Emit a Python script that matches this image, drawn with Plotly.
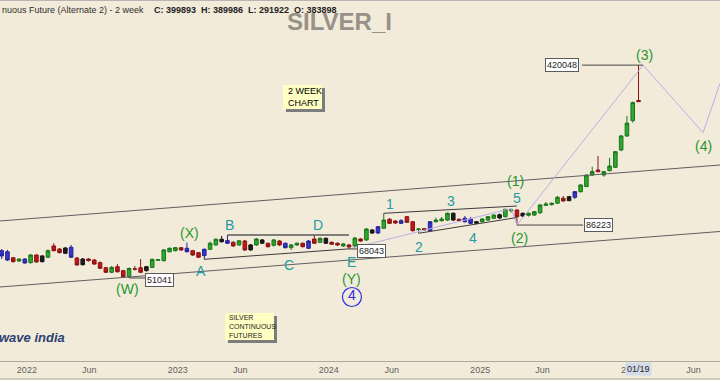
import math
import pandas as pd
import plotly.graph_objects as go

# ---------------- data (2-week candles, Silver continuous future) ----------------
dates = pd.date_range(end="2026-01-19", periods=111, freq="14D")

opens = [66900, 66200, 62400, 60400, 61600, 59400, 64100, 63500, 62700, 70100,
         68000, 65200, 69200, 62200, 61600, 61600, 61000, 59400, 56500, 54000,
         57100, 54900, 51800, 55900, 56500, 54900, 56700, 60800, 60600, 66200,
         66900, 68900, 68500, 66900, 65600, 63700, 67800, 70800, 73100, 73900,
         72700, 70800, 73600, 67400, 70800, 72000, 72000, 70600, 73600, 72000,
         68900, 70800, 72000, 68500, 75100, 72700, 75600, 72700, 72000, 70100,
         70800, 70100, 75100, 74400, 82100, 79700, 83500, 91300, 89700, 87700,
         93700, 89100, 82500, 83200, 81500, 89100, 90000, 90600, 96900, 91300,
         89100, 91500, 87700, 89100, 90600, 92200, 92500, 93700, 99400, 100100,
         94300, 95000, 95200, 97400, 104800, 105500, 107000, 112500, 109700, 113500,
         120000, 126300, 141500, 148700, 141500, 147700, 152700, 181300, 208300, 242500,
         296000]

highs = [68000, 67400, 62800, 61900, 62200, 64700, 64500, 64000, 67700, 72000,
         68700, 69400, 70800, 62800, 62200, 62200, 61600, 60100, 56900, 57500,
         58600, 55300, 56600, 57500, 61600, 57500, 61900, 61600, 68000, 69000,
         69400, 69400, 72400, 67400, 66000, 68400, 73300, 75500, 77400, 78100,
         73300, 74000, 74400, 71500, 75800, 75100, 72500, 75100, 74400, 72500,
         71500, 72500, 72500, 74400, 78100, 76200, 76200, 73300, 72500, 72200,
         71500, 76600, 75800, 83700, 82900, 85400, 96860, 92500, 90600, 91500,
         94300, 89700, 83300, 83700, 89700, 92900, 93400, 97600, 97600, 92000,
         94300, 93400, 89700, 92500, 94300, 96200, 96700, 101100, 101580, 100600,
         97600, 97600, 99100, 105700, 108300, 107800, 115000, 115000, 115000, 120800,
         128800, 142200, 153700, 170900, 147300, 167500, 179200, 210400, 254000, 292900,
         420048]

lows = [61600, 60400, 59500, 59800, 58900, 58900, 59400, 59500, 62200, 66400,
        65100, 64700, 62200, 57500, 57800, 60100, 58100, 55800, 53600, 53600,
        53900, 51400, 51041, 55000, 53600, 54400, 56400, 60400, 60100, 65700,
        66400, 66700, 65700, 63500, 62200, 61400, 67400, 70400, 72500, 71500,
        69400, 70100, 66700, 66700, 70100, 71500, 69000, 69700, 70100, 68400,
        67400, 70100, 69000, 68000, 71500, 72200, 71500, 70800, 70100, 69400,
        68043, 69400, 72900, 73600, 78900, 78900, 82900, 87100, 87100, 87100,
        88000, 80900, 79450, 81300, 80900, 88400, 89300, 89700, 89700, 89300,
        88400, 87100, 87100, 88400, 89700, 91500, 91500, 92900, 97600, 86223,
        93400, 93800, 94300, 96200, 104100, 104600, 106200, 108900, 109400, 111600,
        119000, 125500, 140100, 145100, 139200, 146500, 151700, 179200, 206300, 237700,
        291922]

closes = [63500, 61000, 60000, 61600, 59200, 64100, 59800, 60000, 66900, 66900,
          65600, 68700, 62700, 58100, 58200, 60600, 58600, 56200, 54000, 56700,
          54300, 51700, 56100, 55700, 54000, 57100, 61400, 61200, 67400, 68500,
          68900, 67400, 66200, 64100, 62700, 67800, 72000, 74900, 74900, 72000,
          70100, 73800, 67400, 70800, 75100, 74400, 69600, 74400, 70800, 68900,
          70800, 72000, 69600, 73600, 72000, 75600, 72000, 71300, 70800, 71500,
          69400, 75800, 73600, 82900, 79700, 84800, 90600, 87700, 88000, 90000,
          88600, 81500, 82900, 82100, 89100, 90600, 91500, 96900, 90600, 90000,
          92200, 87700, 89100, 91500, 93700, 95200, 95500, 100800, 100100, 93700,
          96900, 96900, 98400, 105200, 106200, 107000, 113500, 109400, 114200, 120000,
          128200, 141500, 146300, 146300, 146300, 154700, 178300, 208300, 236300, 289800,
          292500]

# bar colouring of the charting package: g=green, r=red, k=black, b=blue
candle_colors = list("bbrgbgrkgr" "rkbrkrrrrg" "rrgrrkgggg" "grbrrbggkb" "rgrkgkrgrb"
                     "ggrbrgkrrg" "rgrgkbgrrb" "rrgrbgggkr" "bbkgggkggr" "kggggggrkb"
                     "gggrggggggr")

x_ticks = ["2022-01-01", "2022-06-01", "2023-01-01", "2023-06-01", "2024-01-01",
           "2024-06-01", "2025-01-01", "2025-06-01", "2026-01-01", "2026-06-01"]
x_tick_text = ["2022", "Jun", "2023", "Jun", "2024", "Jun", "2025", "Jun", "2026", "Jun"]

# drawn trend lines (date, price)
channel_dates = ["2021-10-28", "2026-08-04"]
channel_upper = [89750, 156250]
channel_lower = [46690, 80890]
ace_dates = [dates[35], dates[60]]
ace_prices = [61420, 68100]
bd_dates = [dates[39], dates[60]]
bd_prices = [78200, 78200]
wedge_up_dates = [dates[66], dates[89]]
wedge_up_prices = [96860, 104120]
wedge_lo_dates = [dates[72], dates[89]]
wedge_lo_prices = [79450, 92900]
path_dates = [dates[60], dates[88], dates[89], "2026-01-30", "2026-06-24", "2026-08-04"]
path_prices = [68043, 101580, 86223, 420048, 215130, 350850]

# price boxes: (text, connector start, connector end, box date, price, box price)
price_boxes = [("51041", dates[22], "2022-10-18", "2022-11-18", 51041, 50040),
               ("68043", dates[60], "2024-03-14", "2024-04-14", 68043, 66680),
               ("86223", dates[89], "2025-09-07", "2025-10-13", 86223, 86260)]
top_box = ("420048", "2025-09-04", "2026-01-30", "2025-07-18", 420048)

green_labels = [("(W)", "2022-09-02", 45780), ("(X)", "2023-01-30", 79690),
                ("(Y)", "2024-02-26", 50540), ("(1)", "2025-03-28", 133360),
                ("(2)", "2025-04-05", 75840), ("(3)", "2026-02-03", 464320),
                ("(4)", "2026-06-24", 188600)]
teal_labels = [("A", "2023-02-25", 54700), ("B", "2023-05-07", 86260),
               ("C", "2023-09-26", 58050), ("D", "2023-12-05", 86260),
               ("E", "2024-02-26", 59800), ("1", "2024-05-28", 106200),
               ("2", "2024-08-06", 69380), ("3", "2024-10-22", 109400),
               ("4", "2024-12-14", 75840), ("5", "2025-03-31", 112700)]
circled_label = ("4", "2024-02-26", 42290)

# ---------------- styling ----------------
BG = "rgb(243,235,218)"
FONT = "Liberation Sans, Arial, sans-serif"
GREEN_TXT = "rgb(40,150,45)"
TEAL_TXT = "rgb(35,155,160)"
BLUE_TXT = "rgb(45,45,235)"
styles = {
    "g": ("rgb(45,170,45)", "rgb(25,115,25)"),
    "r": ("rgb(200,20,20)", "rgb(135,20,20)"),
    "k": ("rgb(30,30,30)", "rgb(20,20,20)"),
    "b": ("rgb(55,55,205)", "rgb(35,35,150)"),
}

fig = go.Figure()

def add_line(xs, ys, color, width=1):
    fig.add_trace(go.Scatter(x=xs, y=ys, mode="lines", line=dict(color=color, width=width),
                             hoverinfo="skip", showlegend=False))

add_line(channel_dates, channel_upper, "rgb(95,95,95)")
add_line(channel_dates, channel_lower, "rgb(95,95,95)")
add_line(path_dates, path_prices, "rgb(185,175,230)")
add_line(ace_dates, ace_prices, "rgb(60,60,60)")
add_line(bd_dates, bd_prices, "rgb(90,90,90)", 1.5)
add_line(wedge_up_dates, wedge_up_prices, "rgb(60,60,60)")
add_line(wedge_lo_dates, wedge_lo_prices, "rgb(60,60,60)")

for key, (fill, edge) in styles.items():
    idx = [i for i, c in enumerate(candle_colors) if c == key]
    fig.add_trace(go.Candlestick(
        x=[dates[i] for i in idx],
        open=[opens[i] for i in idx], high=[highs[i] for i in idx],
        low=[lows[i] for i in idx], close=[closes[i] for i in idx],
        increasing=dict(line=dict(color=edge, width=1), fillcolor=fill),
        decreasing=dict(line=dict(color=edge, width=1), fillcolor=fill),
        whiskerwidth=0, hoverinfo="skip", showlegend=False))

annotations = []
for text, d0, d1, dbox, price, pbox in price_boxes:
    add_line([d0, d1], [price, price], "rgb(70,70,70)")
    annotations.append(dict(x=dbox, y=math.log10(pbox), text=text, showarrow=False,
                            font=dict(family=FONT, size=9, color="rgb(30,30,30)"),
                            bgcolor="white", bordercolor="rgb(90,90,90)", borderwidth=1,
                            borderpad=1))
t_text, t_d0, t_d1, t_dbox, t_price = top_box
add_line([t_d0, t_d1], [t_price, t_price], "rgb(70,70,70)")
annotations.append(dict(x=t_dbox, y=math.log10(t_price), text=t_text, showarrow=False,
                        font=dict(family=FONT, size=9, color="rgb(30,30,30)"),
                        bgcolor="white", bordercolor="rgb(90,90,90)", borderwidth=1, borderpad=1))

for text, d, p in green_labels:
    annotations.append(dict(x=d, y=math.log10(p), text=text, showarrow=False,
                            font=dict(family=FONT, size=14, color=GREEN_TXT)))
for text, d, p in teal_labels:
    annotations.append(dict(x=d, y=math.log10(p), text=text, showarrow=False,
                            font=dict(family=FONT, size=14, color=TEAL_TXT)))
c_text, c_d, c_p = circled_label
fig.add_trace(go.Scatter(x=[c_d], y=[c_p], mode="markers+text", text=[c_text],
                         textposition="middle center",
                         textfont=dict(family=FONT, size=14, color=BLUE_TXT),
                         marker=dict(symbol="circle-open", size=19,
                                     line=dict(color=BLUE_TXT, width=1.2), color=BLUE_TXT),
                         hoverinfo="skip", showlegend=False))

# ---------------- pixel helpers for decorations ----------------
W, PH = 720.0, 361.0
def px(x):
    return x / W
def py(y):
    return 1 - y / PH

shapes = []
def note(x0, y0, x1, y1):
    shapes.append(dict(type="rect", xref="paper", yref="paper", x0=px(x0 + 3), x1=px(x1 + 3),
                       y0=py(y1 + 3), y1=py(y0 + 3), fillcolor="rgb(125,125,125)", line=dict(width=0)))
    shapes.append(dict(type="rect", xref="paper", yref="paper", x0=px(x0), x1=px(x1),
                       y0=py(y1), y1=py(y0), fillcolor="rgb(255,255,196)", line=dict(width=0)))

note(283, 85, 322, 109)
note(225, 313, 274, 340)
annotations.append(dict(xref="paper", yref="paper", x=px(286), y=py(97), xanchor="left",
                        yanchor="middle", align="left", showarrow=False,
                        text="2 WEEK<br>CHART", font=dict(family=FONT, size=9, color="black")))
annotations.append(dict(xref="paper", yref="paper", x=px(227), y=py(326), xanchor="left",
                        yanchor="middle", align="left", showarrow=False,
                        text="SILVER<br>CONTINUOUS<br>FUTURES",
                        font=dict(family=FONT, size=7, color="rgb(30,30,30)")))

# header texts
annotations.append(dict(xref="paper", yref="paper", x=0, y=py(10), xanchor="left", yanchor="middle",
                        showarrow=False, text="nuous Future (Alternate 2) - 2 week",
                        font=dict(family=FONT, size=9, color="rgb(45,45,45)")))
annotations.append(dict(xref="paper", yref="paper", x=px(152), y=py(10), xanchor="left",
                        yanchor="middle", showarrow=False,
                        text="<b>C: 399893  H: 389986  L: 291922  O: 383898</b>",
                        font=dict(family=FONT, size=9, color="rgb(35,35,35)")))
annotations.append(dict(xref="paper", yref="paper", x=px(285), y=py(21), xanchor="left",
                        yanchor="middle", showarrow=False, text="<b>SILVER_I</b>",
                        font=dict(family=FONT, size=24, color="rgb(150,145,137)")))
annotations.append(dict(xref="paper", yref="paper", x=px(-3), y=py(337), xanchor="left",
                        yanchor="middle", showarrow=False, text="<b><i>wave india</i></b>",
                        font=dict(family=FONT, size=13, color="rgb(45,65,115)")))
annotations.append(dict(x="2026-01-19", xref="x", yref="paper", y=py(369), yanchor="middle",
                        showarrow=False, text="01/19", bgcolor="rgb(212,219,232)", borderpad=1,
                        font=dict(family=FONT, size=9, color="rgb(40,40,40)")))

shapes.append(dict(type="line", xref="paper", yref="paper", x0=0, x1=1, y0=1, y1=1,
                   line=dict(color="rgb(165,165,165)", width=1.5)))
shapes.append(dict(type="line", xref="paper", yref="paper", x0=0, x1=1, y0=py(379), y1=py(379),
                   line=dict(color="rgb(175,170,160)", width=1)))

fig.update_layout(
    width=720, height=380,
    margin=dict(l=0, r=0, t=0, b=19),
    paper_bgcolor=BG, plot_bgcolor=BG,
    font=dict(family=FONT),
    showlegend=False,
    boxgap=0.12,
    annotations=annotations,
    shapes=shapes,
    xaxis=dict(type="date", range=["2021-10-28", "2026-08-04"], showgrid=False, zeroline=False,
               showline=True, linecolor="rgb(175,170,160)", linewidth=1,
               tickvals=x_ticks, ticktext=x_tick_text, ticks="",
               tickfont=dict(family=FONT, size=9, color="rgb(95,95,95)"),
               rangeslider=dict(visible=False), fixedrange=True),
    yaxis=dict(type="log", range=[math.log10(22438), math.log10(800450)], visible=False,
               showgrid=False, zeroline=False, fixedrange=True),
)

fig.write_html("out.html", config={"displayModeBar": False},
               post_script="document.body.style.margin='0';document.body.style.background='" + BG + "';")
